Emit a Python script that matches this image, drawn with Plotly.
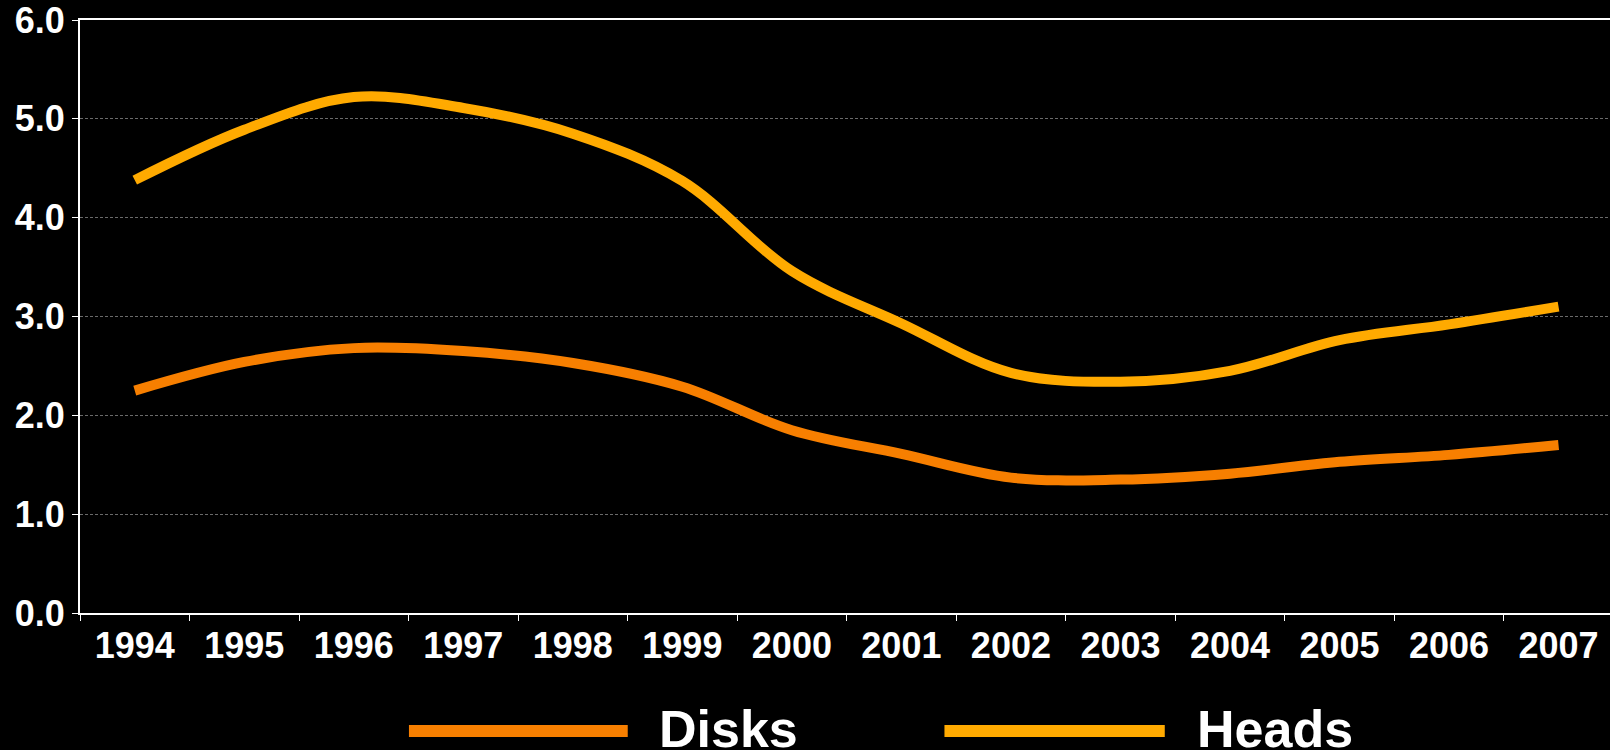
import plotly.graph_objects as go

# Yearly index values
years = ["1994", "1995", "1996", "1997", "1998", "1999", "2000",
         "2001", "2002", "2003", "2004", "2005", "2006", "2007"]
disks = [2.25, 2.54, 2.68, 2.65, 2.53, 2.29, 1.85,
         1.61, 1.37, 1.35, 1.41, 1.53, 1.60, 1.70]
heads = [4.38, 4.89, 5.22, 5.11, 4.85, 4.37, 3.46,
         2.93, 2.43, 2.34, 2.45, 2.76, 2.92, 3.10]

series_names = ["Disks", "Heads"]
series_colors = ["#F77F00", "#FFAA00"]

FONT = "Liberation Sans, Arial, sans-serif"

fig = go.Figure()
for name, vals, col in zip(series_names, [disks, heads], series_colors):
    fig.add_trace(go.Scatter(
        x=years, y=vals, name=name, mode="lines",
        line=dict(color=col, width=10, shape="spline", smoothing=1.0),
        showlegend=False,
    ))

# Legend drawn below the plot: long line sample followed by the label
legend_pos = [(0.215, 0.358, 0.377), (0.565, 0.709, 0.729)]
for (x0, x1, tx), name, col in zip(legend_pos, series_names, series_colors):
    fig.add_shape(type="line", xref="paper", yref="paper",
                  x0=x0, x1=x1, y0=-0.199, y1=-0.199,
                  line=dict(color=col, width=12))
    fig.add_annotation(xref="paper", yref="paper", x=tx, y=-0.196,
                       xanchor="left", yanchor="middle", showarrow=False,
                       text=name,
                       font=dict(family=FONT, size=52, color="white", weight="bold"))

fig.update_layout(
    width=1610, height=750,
    margin=dict(l=80, r=0, t=20, b=137),
    paper_bgcolor="black", plot_bgcolor="black",
    font=dict(family=FONT, color="white", size=36, weight="bold"),
    xaxis=dict(
        type="category", range=[-0.5, 13.47],
        tickson="boundaries", ticks="outside", ticklen=6, tickwidth=1,
        tickcolor="white", showgrid=False, showline=True,
        linecolor="white", linewidth=2, mirror=True,
        tickfont=dict(family=FONT, size=36, color="white", weight="bold"),
        zeroline=False,
    ),
    yaxis=dict(
        range=[0, 6], dtick=1, tickformat=".1f",
        ticks="outside", ticklen=6, tickwidth=1, tickcolor="white",
        showline=True, linecolor="white", linewidth=2,
        showgrid=True, gridcolor="#6a6a6a", gridwidth=1, griddash="3px,2px",
        zeroline=False, ticklabeloverflow="allow",
        tickfont=dict(family=FONT, size=36, color="white", weight="bold"),
    ),
)

fig.write_html("out.html")
